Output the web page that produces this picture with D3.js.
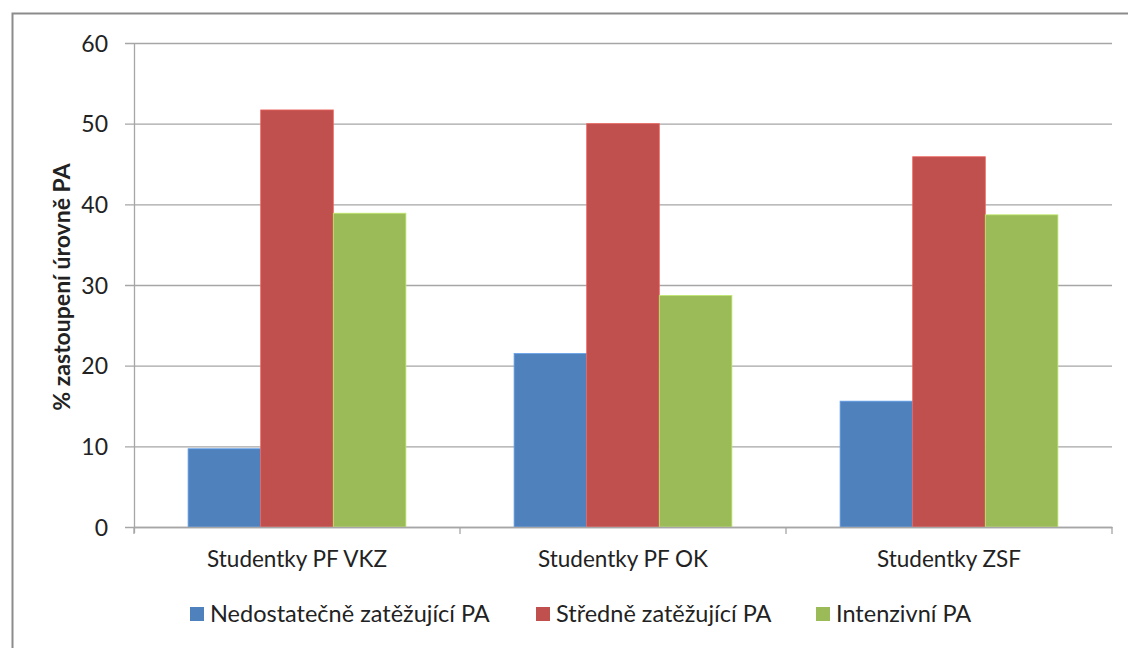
<!DOCTYPE html>
<html>
<head>
<meta charset="utf-8">
<script src="https://cdn.jsdelivr.net/npm/d3@7"></script>
<style>
  html, body { margin: 0; padding: 0; background: #fff; }
  svg { display: block; font-family: Lato, "Open Sans", sans-serif; }
</style>
</head>
<body>
<svg id="chart" width="1128" height="648"></svg>
<script>
// Categories, series and values (% of students per activity level)
const categories = ["Studentky PF VKZ", "Studentky PF OK", "Studentky ZSF"];
const seriesNames = ["Nedostatečně zatěžující PA", "Středně zatěžující PA", "Intenzivní PA"];
const seriesColors = ["#4F81BD", "#C0504D", "#9BBB59"];
const nedostatecne = [9.7, 21.5, 15.6];
const stredne = [51.7, 50.0, 45.9];
const intenzivni = [38.9, 28.7, 38.7];
const yTicks = [0, 10, 20, 30, 40, 50, 60];
const yTitle = "% zastoupení úrovně PA";

const seriesValues = [nedostatecne, stredne, intenzivni];

const FONT = "Lato, 'Open Sans', sans-serif";
const svg = d3.select("#chart");
const W = 1128, H = 648;
const margin = { left: 134, right: 16, top: 43, bottom: 121 };
const innerW = W - margin.left - margin.right;
const innerH = H - margin.top - margin.bottom;

// outer frame (left and top edges visible)
svg.append("path")
  .attr("d", `M12.5,${H} V13.5 H${W}`)
  .attr("fill", "none")
  .attr("stroke", "#8c8c8c")
  .attr("stroke-width", 2);

const g = svg.append("g").attr("transform", `translate(${margin.left},${margin.top})`);

const x0 = d3.scaleBand().domain(categories).range([0, innerW]).paddingInner(0).paddingOuter(0);
const x1 = d3.scaleBand().domain(d3.range(seriesNames.length))
  .range([0, x0.bandwidth()]).paddingOuter(0.745).paddingInner(0);
const y = d3.scaleLinear().domain([0, 60]).range([innerH, 0]);

// horizontal gridlines with ticks extending left of the axis
const yAxis = d3.axisLeft(y).tickValues(yTicks).tickSize(-innerW).tickPadding(26);
const yg = g.append("g").call(yAxis);
yg.select(".domain").remove();
yg.selectAll(".tick line")
  .attr("x1", -9)
  .attr("stroke", "#a6a6a6")
  .attr("stroke-width", 1.3);
yg.selectAll(".tick text")
  .attr("font-size", 23)
  .attr("font-family", FONT)
  .attr("fill", "#222")
  .attr("dy", "0.36em");

// bars
const groups = g.selectAll(".grp").data(categories).join("g")
  .attr("class", "grp")
  .attr("transform", d => `translate(${x0(d)},0)`);

groups.selectAll("rect")
  .data((c, ci) => seriesValues.map((vals, si) => ({ si, v: vals[ci] })))
  .join("rect")
  .attr("x", d => x1(d.si))
  .attr("y", d => y(d.v))
  .attr("width", x1.bandwidth())
  .attr("height", d => y(0) - y(d.v))
  .attr("fill", d => seriesColors[d.si])
  .attr("stroke", d => d3.color(seriesColors[d.si]).brighter(0.6))
  .attr("stroke-width", 0.8);

// vertical axis line
g.append("line")
  .attr("x1", 0.5).attr("x2", 0.5)
  .attr("y1", 0).attr("y2", innerH + 6)
  .attr("stroke", "#a6a6a6").attr("stroke-width", 1.3);

// category axis
const xAxis = d3.axisBottom(x0).tickSize(0).tickPadding(24);
const xg = g.append("g").attr("transform", `translate(0,${innerH})`).call(xAxis);
xg.select(".domain").attr("stroke", "#a6a6a6").attr("stroke-width", 1.3);
xg.selectAll(".tick text")
  .attr("font-size", 22.5)
  .attr("font-family", FONT)
  .attr("fill", "#222");
// boundary ticks between categories
const boundaries = categories.map(c => x0(c)).concat([innerW]);
xg.selectAll(".bnd").data(boundaries).join("line")
  .attr("class", "bnd")
  .attr("x1", d => d).attr("x2", d => d)
  .attr("y1", 0).attr("y2", 7)
  .attr("stroke", "#a6a6a6").attr("stroke-width", 1.3);

// y-axis title
svg.append("text")
  .attr("transform", `translate(70,${margin.top + innerH / 2 + 2}) rotate(-90)`)
  .attr("text-anchor", "middle")
  .attr("font-size", 23)
  .attr("font-weight", "bold")
  .attr("font-family", FONT)
  .attr("fill", "#222")
  .text(yTitle);

// legend
const legendX = [190, 536, 816];
const leg = svg.append("g").attr("transform", "translate(0,614)");
const items = leg.selectAll("g").data(seriesNames).join("g")
  .attr("transform", (d, i) => `translate(${legendX[i]},0)`);
items.append("rect")
  .attr("x", 0).attr("y", -7).attr("width", 14).attr("height", 14)
  .attr("fill", (d, i) => seriesColors[i]);
items.append("text")
  .attr("x", 20).attr("dy", "0.36em")
  .attr("font-size", 23.5)
  .attr("font-family", FONT)
  .attr("fill", "#222")
  .text(d => d);
</script>
</body>
</html>
